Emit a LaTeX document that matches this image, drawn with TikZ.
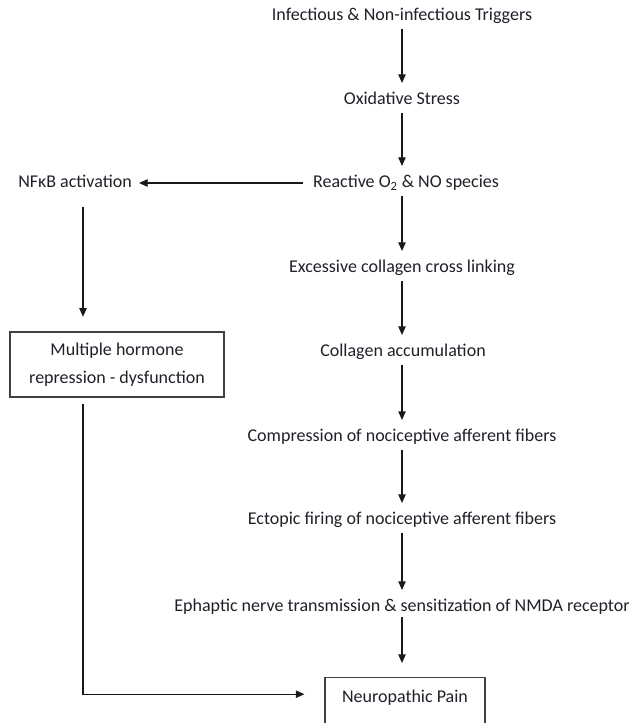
\documentclass[tikz,border=0pt]{standalone}
\usepackage{fontspec}
\setmainfont{Carlito}
\usetikzlibrary{arrows.meta,calc}
\definecolor{ink}{RGB}{35,30,40}
\begin{document}
\begin{tikzpicture}[x=0.75pt,y=-0.75pt,
  every node/.style={font=\fontsize{13.5}{21}\selectfont,text=ink},
  lbl/.style={inner sep=0pt,text height=9.5pt,text depth=3pt},
  boxed/.style={draw=black!75,line width=0.8pt,inner sep=0pt},
  flow/.style={-{Triangle[length=6.5pt,width=5.5pt]},line width=1pt,black!90},
  dn/.style={flow,shorten <=9.75pt,shorten >=12.75pt}]
\useasboundingbox (0,0) rectangle (636,723);
\clip (0,0) rectangle (636,723);
\node[lbl] (trig) at (402,16) {Infectious \& Non-infectious Triggers};
\node[lbl] (oxi)  at (402,100) {Oxidative Stress};
\node[lbl] (ros)  at (406,183) {Reactive O\textsubscript{2} \& NO species};
\node[lbl] (xl)   at (402,268) {Excessive collagen cross linking};
\node[lbl] (acc)  at (403,352) {Collagen accumulation};
\node[lbl] (comp) at (402,437) {Compression of nociceptive afferent fibers};
\node[lbl] (ect)  at (402,520) {Ectopic firing of nociceptive afferent fibers};
\node[lbl] (eph)  at (402,607) {Ephaptic nerve transmission \& sensitization of NMDA receptor};
\node[boxed,anchor=north,minimum width=120pt,text height=18.5pt,text depth=40pt] (pain) at (405,677) {Neuropathic Pain};
\node[lbl] (nfkb) at (75,183) {NFκB activation};
\node[boxed,minimum width=160.5pt,minimum height=48.75pt,align=center] (horm) at (117,364.5) {Multiple hormone\\repression - dysfunction};
\draw[dn] (402,16) -- (oxi.center);
\draw[dn] (oxi.center) -- (402,183);
\draw[dn] (402,183) -- (xl.center);
\draw[dn] (xl.center) -- (402,352);
\draw[dn] (402,352) -- (comp.center);
\draw[dn] (comp.center) -- (ect.center);
\draw[dn] (ect.center) -- (eph.center);
\draw[flow,shorten <=7.5pt,shorten >=10.5pt] (eph.center) -- (pain.north -| eph.center);
\draw[flow,shorten <=7.5pt,shorten >=5.25pt] (ros.west) -- (nfkb.east);
\draw[flow,shorten <=18pt,shorten >=11pt] ([xshift=6pt]nfkb.center) -- ([xshift=6pt]nfkb.center |- horm.north);
\draw[flow,shorten <=4.5pt,shorten >=15pt] ([xshift=-25.5pt]horm.south) |- ([yshift=6pt]pain.base west);
\end{tikzpicture}
\end{document}
